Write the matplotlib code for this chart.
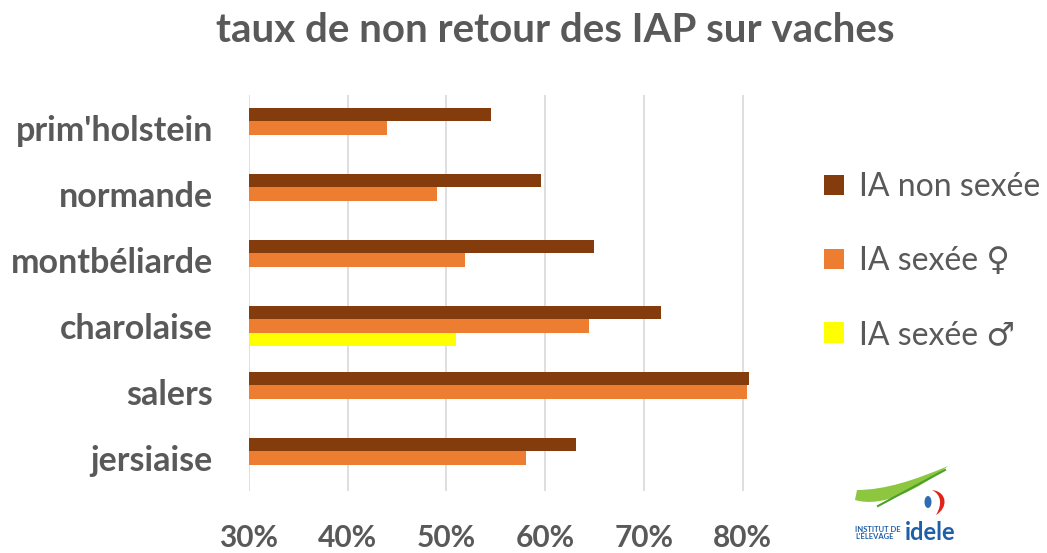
import matplotlib
matplotlib.use("Agg")
import matplotlib.pyplot as plt
import numpy as np
from matplotlib.patches import PathPatch, Ellipse
from matplotlib.path import Path

categories = ["prim'holstein", "normande", "montbéliarde", "charolaise", "salers", "jersiaise"]
ia_non_sexee = [0.545, 0.596, 0.650, 0.717, 0.807, 0.631]
ia_sexee_f = [0.440, 0.490, 0.519, 0.644, 0.805, 0.581]
ia_sexee_m = [np.nan, np.nan, np.nan, 0.510, np.nan, np.nan]
series_names = ["IA non sexée", "IA sexée ♀", "IA sexée ♂"]
colors = ["#843C0C", "#ED7D31", "#FFFF00"]
xticks = [0.3, 0.4, 0.5, 0.6, 0.7, 0.8]
xticklabels = ["30%", "40%", "50%", "60%", "70%", "80%"]

FONT = ["Lato", "DejaVu Sans"]
plt.rcParams['font.family'] = FONT
gray = "#595959"

W, H = 1047, 553
fig = plt.figure(figsize=(W / 100, H / 100), dpi=100)
xmin, xmax = 0.30, 0.82
left_px, top_px, bottom_px = 249, 95, 491
px_per_unit = 987
ax = fig.add_axes([left_px / W, (H - bottom_px) / H,
                   (xmax - xmin) * px_per_unit / W, (bottom_px - top_px) / H])

y = np.arange(len(categories))
bh = 0.2
offsets = [-bh, 0, bh]
for vals, off, c, name in zip([ia_non_sexee, ia_sexee_f, ia_sexee_m], offsets, colors, series_names):
    v = np.array(vals, dtype=float)
    ax.barh(y + off, v - xmin, left=xmin, height=bh, color=c, label=name, zorder=3)

ax.set_xlim(xmin, xmax)
ax.set_ylim(len(categories) - 0.5, -0.5)
ax.set_yticks(y)
ax.set_yticklabels(categories, fontsize=24.5, fontweight="bold", color=gray)
ax.set_xticks(xticks)
ax.set_xticklabels(xticklabels, fontsize=21.5, fontweight="bold", color=gray)
ax.tick_params(axis="y", length=0, pad=26)
ax.tick_params(axis="x", length=0, pad=24)
ax.grid(axis="x", color="#D9D9D9", linewidth=1.2, zorder=0)
for s in ax.spines.values():
    s.set_visible(False)

fig.text(555 / W, 1 - 31 / H, "taux de non retour des IAP sur vaches", ha="center", va="center",
         fontsize=29, fontweight="bold", color=gray)

leg = fig.legend(loc="upper left", bbox_to_anchor=(818 / W, 1 - 166 / H), frameon=False,
                 prop={"size": 23, "family": FONT}, labelspacing=1.37, handlelength=0.62,
                 handleheight=0.62, handletextpad=0.45, borderaxespad=0, borderpad=0.2)
for t in leg.get_texts():
    t.set_color(gray)

# simple logo approximation (pixel coords in a small axes)
lx0, ly0, lw, lh = 845, 458, 130, 95
lax = fig.add_axes([lx0 / W, 0, lw / W, lh / H])
lax.set_xlim(lx0, lx0 + lw)
lax.set_ylim(553, 553 - lh)
lax.axis("off")
verts = [(855, 500), (882, 508), (918, 490), (948, 466),
         (915, 480), (885, 490), (857, 490), (855, 500)]
codes = [Path.MOVETO, Path.CURVE4, Path.CURVE4, Path.CURVE4,
         Path.CURVE4, Path.CURVE4, Path.CURVE4, Path.CLOSEPOLY]
lax.add_patch(PathPatch(Path(verts, codes), facecolor="#8DC63F", edgecolor="none"))
lax.plot([878, 945], [506, 470], color="#4AA02C", lw=1.5)
lax.add_patch(Ellipse((928, 502), 7, 12, facecolor="#2E6DB4", edgecolor="none"))
rverts = [(932, 490), (948, 492), (948, 508), (936, 515), (942, 505), (942, 495), (932, 490)]
rcodes = [Path.MOVETO, Path.CURVE4, Path.CURVE4, Path.CURVE4, Path.CURVE4, Path.CURVE4, Path.CLOSEPOLY]
lax.add_patch(PathPatch(Path(rverts, rcodes), facecolor="#E2231A", edgecolor="none"))
lax.text(855, 533, "INSTITUT DE\nL'ÉLEVAGE", color="#1F5FA8", fontsize=5.5, fontweight="bold",
         ha="left", va="center", linespacing=1.0)
lax.text(905, 533, "idele", color="#1F5FA8", fontsize=17, fontweight="bold", ha="left", va="center")

fig.savefig("out.png", dpi=100)
